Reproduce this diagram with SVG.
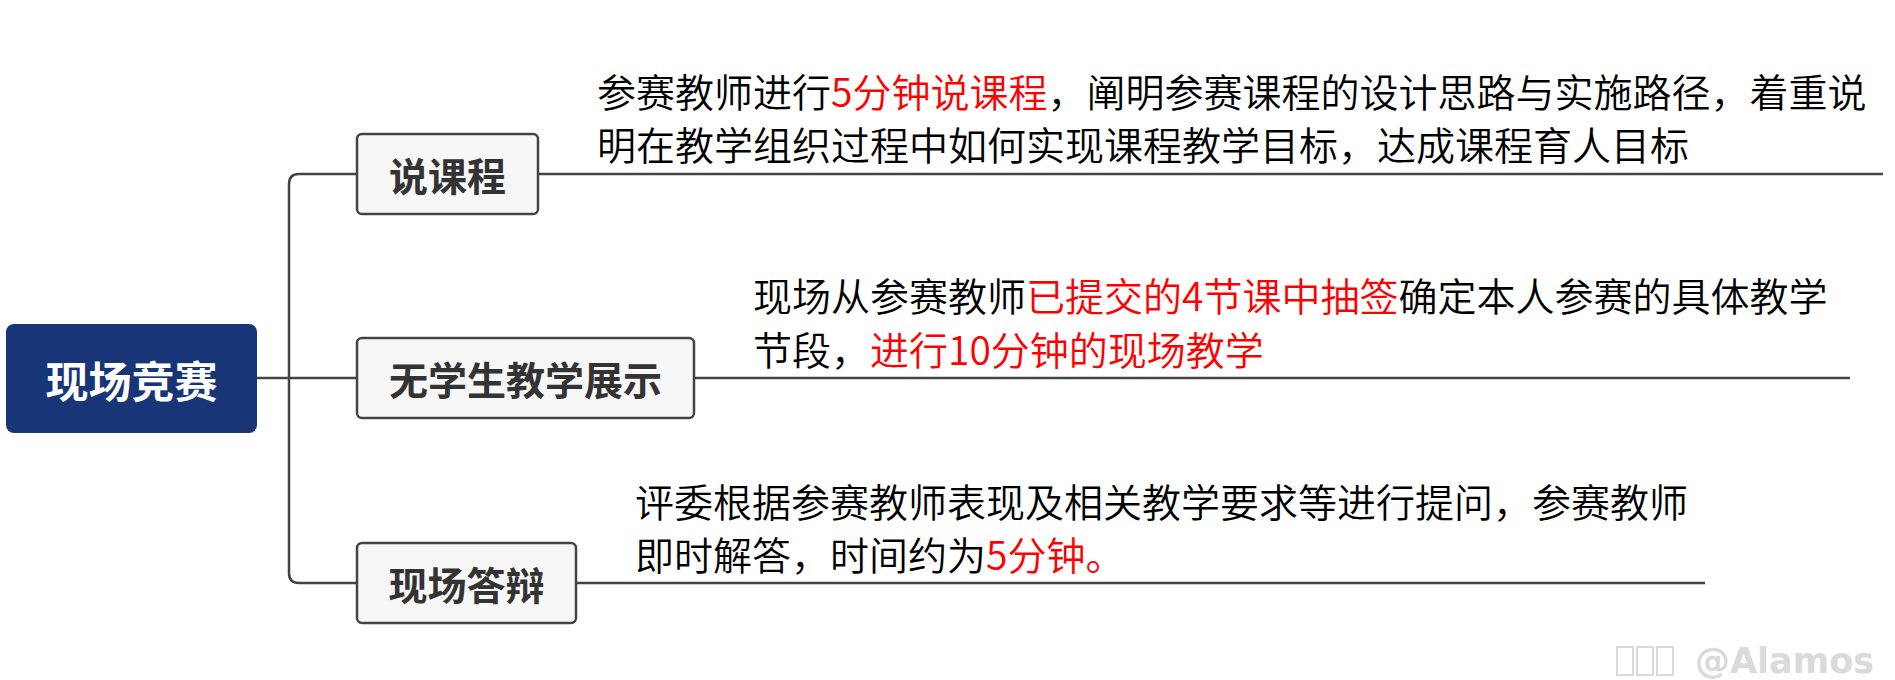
<svg xmlns="http://www.w3.org/2000/svg" width="1895" height="680" viewBox="0 0 1895 680">
<style>
.cn{font-family:"Noto Sans CJK SC","Noto Sans",sans-serif}
.node rect{fill:#f7f7f7;stroke:#444;stroke-width:2.5}
.node text{font-size:39px;font-weight:bold;fill:#333;text-anchor:middle;dominant-baseline:central}
.desc{font-size:39px;font-weight:350;fill:#000}
.red{fill:#ff0000}
.conn{fill:none;stroke:#444;stroke-width:2.5}
</style>
<rect width="1895" height="680" fill="#fff"/>
<g id="connectors">
<path class="conn" d="M257,378 H357"/>
<path class="conn" d="M357,174 H299 Q289,174 289,184 V573 Q289,583 299,583 H357"/>
<path class="conn" d="M538,174 H1883"/>
<path class="conn" d="M694,378 H1850"/>
<path class="conn" d="M576,583 H1705"/>
</g>
<g id="root">
<rect x="6" y="324" width="251" height="109" rx="8" fill="#173577"/>
<text class="cn" x="131.5" y="378.5" font-size="43" font-weight="bold" fill="#fff" text-anchor="middle" dominant-baseline="central">现场竞赛</text>
</g>
<g id="node1" class="node">
<rect x="357" y="134" width="181" height="80" rx="5"/>
<text class="cn" x="447.5" y="174">说课程</text>
</g>
<g id="node2" class="node">
<rect x="357" y="338" width="337" height="80" rx="5"/>
<text class="cn" x="525.5" y="378">无学生教学展示</text>
</g>
<g id="node3" class="node">
<rect x="357" y="543" width="219" height="80" rx="5"/>
<text class="cn" x="466.5" y="583">现场答辩</text>
</g>
<g id="desc1">
<text class="cn desc" x="597" y="107">参赛教师进行<tspan class="red">5分钟说课程</tspan>，阐明参赛课程的设计思路与实施路径，着重说</text>
<text class="cn desc" x="597" y="160">明在教学组织过程中如何实现课程教学目标，达成课程育人目标</text>
</g>
<g id="desc2">
<text class="cn desc" x="753" y="311">现场从参赛教师<tspan class="red">已提交的4节课中抽签</tspan>确定本人参赛的具体教学</text>
<text class="cn desc" x="753" y="365">节段，<tspan class="red">进行10分钟的现场教学</tspan></text>
</g>
<g id="desc3">
<text class="cn desc" x="635" y="517">评委根据参赛教师表现及相关教学要求等进行提问，参赛教师</text>
<text class="cn desc" x="635" y="570">即时解答，时间约为<tspan class="red">5分钟。</tspan></text>
</g>
<g id="watermark">
<rect x="1617" y="647" width="16" height="28" fill="none" stroke="#d9d9d9" stroke-width="2"/>
<rect x="1637" y="647" width="16" height="28" fill="none" stroke="#d9d9d9" stroke-width="2"/>
<rect x="1657" y="647" width="16" height="28" fill="none" stroke="#d9d9d9" stroke-width="2"/>
<text x="1695" y="673" font-family="DejaVu Sans" font-weight="bold" font-size="35" fill="#dadada">@Alamos</text>
</g>
</svg>
